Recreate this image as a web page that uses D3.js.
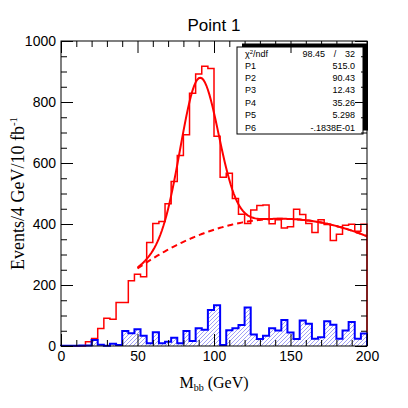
<!DOCTYPE html>
<html>
<head>
<meta charset="utf-8">
<script src="https://cdn.jsdelivr.net/npm/d3@7"></script>
<style>
  body { margin: 0; background: #fff; }
  svg { display: block; }
</style>
</head>
<body>
<svg width="408" height="408"></svg>
<script>
// 4 GeV bins from 0 to 200
const binWidth = 4;
const signalCounts = [0, 0, 0, 0, 14, 25, 57, 91, 88, 143,
  143, 214, 235, 227, 339, 402, 408, 466, 539, 625,
  693, 829, 892, 917, 910, 688, 553, 566, 484, 432,
  402, 446, 461, 462, 401, 414, 387, 391, 448, 431,
  402, 372, 414, 398, 346, 366, 396, 399, 376, 399];
const bkgCounts = [1, 1, 1, 2, 2, 20, 4, 1, 7, 3,
  49, 42, 55, 34, 9, 45, 9, 14, 27, 9,
  49, 16, 58, 53, 118, 134, 3, 52, 58, 69,
  126, 38, 23, 34, 58, 51, 85, 44, 23, 84,
  73, 24, 29, 81, 70, 24, 51, 79, 24, 41];

// fit: gaussian (P1,P2,P3) + quadratic background (P4,P5,P6)
const fitPars = [515.0, 90.43, 12.43, 35.26, 5.298, -0.01838];
const fitRange = [50, 200];
const statLabels = ["P1", "P2", "P3", "P4", "P5", "P6"];
const statValues = ["515.0", "90.43", "12.43", "35.26", "5.298", "-.1838E-01"];
const chi2 = "98.45", ndf = "32";

const xMajor = [0, 50, 100, 150, 200];
const yMajor = [0, 200, 400, 600, 800, 1000];

const sans = "'Liberation Sans', Arial, sans-serif";
const serif = "'Liberation Serif', 'Times New Roman', serif";

const svg = d3.select("svg").style("font-family", sans);
const padL = 61, padR = 367, padT = 41, padB = 346;

const x = d3.scaleLinear().domain([0, 200]).range([padL, padR]);
const y = d3.scaleLinear().domain([0, 1000]).range([padB, padT]);

function steps(counts) {
  const pts = [[0, 0]];
  counts.forEach((c, i) => {
    pts.push([i * binWidth, c]);
    pts.push([(i + 1) * binWidth, c]);
  });
  pts.push([counts.length * binWidth, 0]);
  return pts;
}

const line = d3.line().x(d => x(d[0])).y(d => y(d[1]));

// signal + background histogram
svg.append("path")
  .attr("d", line(steps(signalCounts)))
  .attr("fill", "none")
  .attr("stroke", "#ff0000")
  .attr("stroke-width", 1.5);

// fit curves
const [p1, p2, p3, p4, p5, p6] = fitPars;
const bkgFn = m => p4 + p5 * m + p6 * m * m;
const fullFn = m => p1 * Math.exp(-0.5 * ((m - p2) / p3) ** 2) + bkgFn(m);
const ms = d3.range(fitRange[0], fitRange[1] + 0.5, 1);

svg.append("path")
  .attr("d", d3.line().x(m => x(m)).y(m => y(fullFn(m)))(ms))
  .attr("fill", "none")
  .attr("stroke", "#ff0000")
  .attr("stroke-width", 2);

svg.append("path")
  .attr("d", d3.line().x(m => x(m)).y(m => y(bkgFn(m)))(ms))
  .attr("fill", "none")
  .attr("stroke", "#ff0000")
  .attr("stroke-width", 2)
  .attr("stroke-dasharray", "6,4");

// background-only histogram: hatched inside, clipped to its outline
const bkgPath = line(steps(bkgCounts));
svg.append("clipPath").attr("id", "bkgClip")
  .append("path").attr("d", bkgPath);

svg.append("g")
  .attr("clip-path", "url(#bkgClip)")
  .selectAll("line")
  .data(d3.range(padL - 200, padR + 4, 4))
  .join("line")
    .attr("x1", d => d).attr("y1", padB)
    .attr("x2", d => d + 200).attr("y2", padB - 200)
    .attr("stroke", "#7878f0")
    .attr("stroke-width", 0.7);

svg.append("path")
  .attr("d", bkgPath)
  .attr("fill", "none")
  .attr("stroke", "#0000ff")
  .attr("stroke-width", 2);

// stats box with shadow
const bx = 237, by = 47, bw = 126, bh = 87;
svg.append("rect").attr("x", bx + 5).attr("y", by - 3.5)
  .attr("width", bw).attr("height", bh).attr("fill", "#000");
svg.append("rect").attr("x", bx).attr("y", by)
  .attr("width", bw).attr("height", bh)
  .attr("fill", "#fff").attr("stroke", "#000").attr("stroke-width", 1);

const st = svg.append("g").attr("font-size", 9).attr("fill", "#000");
const chiText = st.append("text").attr("x", 245).attr("y", 57);
chiText.append("tspan").text("χ");
chiText.append("tspan").attr("font-size", 6).attr("dy", -3.5).text("2");
chiText.append("tspan").attr("dy", 3.5).text("/ndf");
st.append("text").attr("x", 325).attr("y", 57).attr("text-anchor", "end").text(chi2);
st.append("text").attr("x", 335).attr("y", 57).attr("text-anchor", "middle").text("/");
st.append("text").attr("x", 355).attr("y", 57).attr("text-anchor", "end").text(ndf);

statLabels.forEach((lab, i) => {
  const yy = 68.5 + i * 12.4;
  st.append("text").attr("x", 245).attr("y", yy).text(lab);
  st.append("text").attr("x", 355).attr("y", yy).attr("text-anchor", "end").text(statValues[i]);
});

// frame
svg.append("rect")
  .attr("x", padL).attr("y", padT)
  .attr("width", padR - padL).attr("height", padB - padT)
  .attr("fill", "none").attr("stroke", "#000").attr("stroke-width", 1);

// axes, ticks pointing inward
const xMinor = d3.range(0, 201, 10).filter(v => v % 50 !== 0);
const yMinor = d3.range(0, 1001, 50).filter(v => v % 200 !== 0);

function addAxis(axisFn, scale, transform, vals, size, labels) {
  const g = svg.append("g")
    .attr("transform", transform)
    .call(axisFn(scale).tickValues(vals).tickSize(-size)
      .tickPadding(labels ? 5 : 0)
      .tickFormat(labels ? d3.format("d") : ""));
  g.select(".domain").remove();
  g.selectAll("line").attr("stroke", "#000");
  g.attr("font-family", null);
  g.selectAll("text")
    .style("font-family", sans)
    .attr("font-size", 14).attr("fill", "#000");
  return g;
}

addAxis(d3.axisBottom, x, `translate(0,${padB})`, xMajor, 12, true);
addAxis(d3.axisBottom, x, `translate(0,${padB})`, xMinor, 6, false);
addAxis(d3.axisTop, x, `translate(0,${padT})`, xMajor, 12, false);
addAxis(d3.axisTop, x, `translate(0,${padT})`, xMinor, 6, false);
addAxis(d3.axisLeft, y, `translate(${padL},0)`, yMajor, 12, true);
addAxis(d3.axisLeft, y, `translate(${padL},0)`, yMinor, 6, false);
addAxis(d3.axisRight, y, `translate(${padR},0)`, yMajor, 12, false);
addAxis(d3.axisRight, y, `translate(${padR},0)`, yMinor, 6, false);

// title
svg.append("text")
  .attr("x", (padL + padR) / 2).attr("y", 31)
  .attr("text-anchor", "middle")
  .attr("font-size", 17)
  .text("Point 1");

// x label
const xl = svg.append("text")
  .attr("x", (padL + padR) / 2).attr("y", 388)
  .attr("text-anchor", "middle")
  .style("font-family", serif)
  .attr("font-size", 16);
xl.append("tspan").text("M");
xl.append("tspan").attr("font-size", 10).attr("dy", 3).text("bb");
xl.append("tspan").attr("dy", -3).text(" (GeV)");

// y label
const yl = svg.append("text")
  .attr("transform", `translate(24,${(padT + padB) / 2}) rotate(-90)`)
  .attr("text-anchor", "middle")
  .style("font-family", serif)
  .attr("font-size", 18);
yl.append("tspan").text("Events/4 GeV/10 fb");
yl.append("tspan").attr("font-size", 11).attr("dy", -7).text("-1");
</script>
</body>
</html>
